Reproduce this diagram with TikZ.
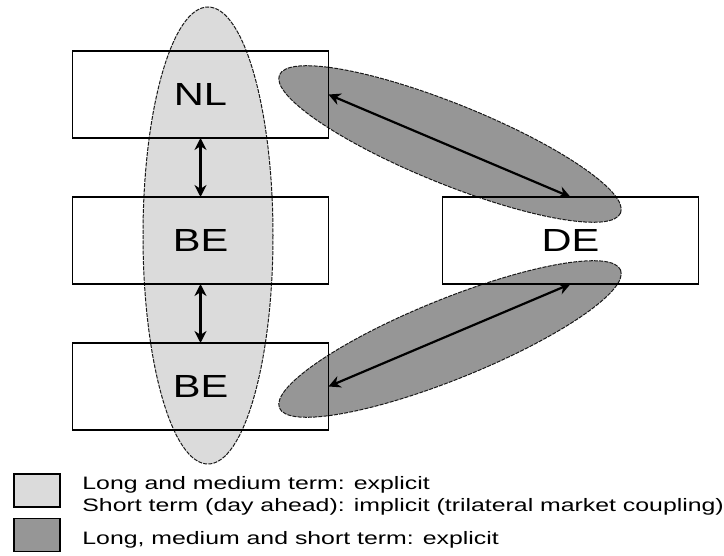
\documentclass[tikz,border=0pt]{standalone}
\usepackage{fontspec}
\setmainfont{Liberation Sans}
\usetikzlibrary{arrows.meta,positioning,backgrounds}

\definecolor{lightzone}{gray}{0.86}
\definecolor{darkzone}{gray}{0.59}
% the lettering is set a little wide
\newcommand{\widetext}[2][1.3]{\scalebox{#1}[1]{#2}}

\begin{document}
\begin{tikzpicture}[
			x=0.5pt, y=-0.5pt,
			node distance = 29.5pt and 57pt,
			CountryBox/.style={draw, line width=0.8pt, minimum width=128pt, 
				minimum height=43.5pt, outer sep=0pt, inner sep=0pt,
				font=\fontsize{16}{18}\selectfont},
			Zone/.style={draw=black!90, line width=0.5pt, dash pattern=on 2pt off 0.6pt},
			KeyBox/.style={draw, line width=0.9pt, minimum width=23pt, minimum height=16.5pt},
			KeyText/.style={anchor=west, inner sep=0pt, font=\fontsize{9}{11}\selectfont},
			Link/.style={{Stealth[length=6pt, width=6pt]}-{Stealth[length=6pt, width=6pt]},
				line width=1.1pt},
			]
			\useasboundingbox (0,0) rectangle (724,556);
			\node [CountryBox] (NL) at (200.5,94.5) {\widetext{NL}};
			\node [CountryBox, below=of NL] (BE) {\widetext{BE}};
			\node [CountryBox, below=of BE] (BE2) {\widetext{BE}};
			\node [CountryBox, right=of BE] (DE) {\widetext{DE}};
			% coupling zones behind the boxes
			\begin{scope}[on background layer]
				\draw [Zone, fill=lightzone] (208,235.5) ellipse [x radius=65, y radius=228.5];
				\draw [Zone, fill=darkzone, rotate around={-22:(450,144)}]
					(450,144) ellipse [x radius=184, y radius=40];
				\draw [Zone, fill=darkzone, rotate around={22:(450,339)}]
					(450,339) ellipse [x radius=184, y radius=40];
			\end{scope}
			\draw [Link] (NL) -- (BE);
			\draw [Link] (BE) -- (BE2);
			\draw [Link] (NL.east) -- (DE.north);
			\draw [Link] (BE2.east) -- (DE.south);
			% key
			\node [KeyBox, fill=lightzone] (KeyLight) at (37,490.5) {};
			\node [KeyBox, fill=darkzone] (KeyDark) at (37,535) {};
			\node [KeyText] (KeyLightText) at (82,496) {\widetext[1.38]{\begin{tabular}{@{}l@{}}
				Long and medium term: explicit\\
				Short term (day ahead): implicit (trilateral market coupling)\end{tabular}}};
			\node [KeyText] (KeyDarkText) at (82,540) {\widetext[1.38]{Long, medium and short term: explicit}};
		\end{tikzpicture}
\end{document}
